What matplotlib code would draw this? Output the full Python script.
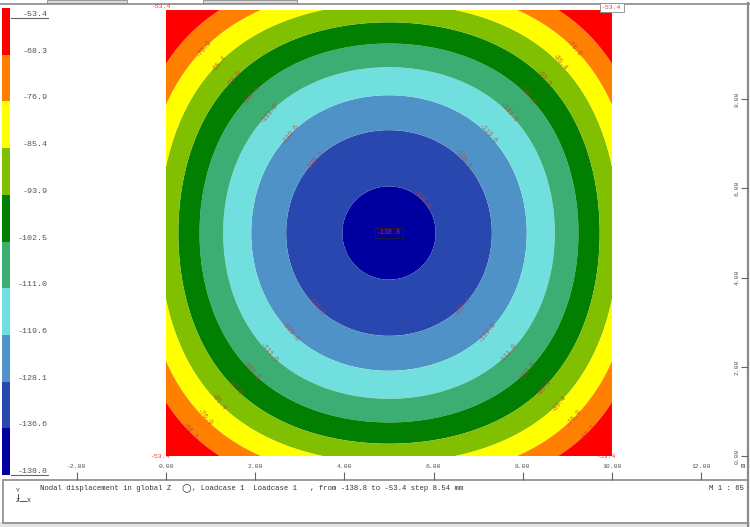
import numpy as np
import matplotlib
matplotlib.use("Agg")
import matplotlib.pyplot as plt
from matplotlib.patches import Rectangle
from matplotlib.lines import Line2D

# ---------------- data ----------------
levels = [-138.8, -136.6, -128.1, -119.6, -111.0, -102.5, -93.9, -85.4, -76.9, -68.3, -53.4]
band_colors = ["#0000a0", "#2848b0", "#4e92c8", "#72dfdf", "#3cae74",
               "#007f00", "#80c000", "#ffff00", "#ff8000", "#ff0000"]
w_center = -138.8      # value at plate centre
w_edge_mid = -88.5     # value at middle of each edge
w_corner = -53.4       # value at the corners
plate_x = [0.0, 10.0]
plate_y = [0.0, 10.0]
ruler_x_ticks = [-2, 0, 2, 4, 6, 8, 10, 12]
ruler_y_ticks = [0, 2, 4, 6, 8]
label_levels_tl = [-76.9, -85.4, -93.9, -102.5, -111.0, -119.6, -128.1]
label_levels_tr = [-76.9, -85.4, -93.9, -102.5, -111.0, -119.6, -128.1, -136.6]
label_levels_bl = [-68.3, -76.9, -85.4, -93.9, -102.5, -111.0, -119.6, -128.1]
label_levels_br = [-68.3, -76.9, -85.4, -93.9, -102.5, -111.0, -119.6, -128.1]
caption_a = "Nodal displacement in global Z"
caption_b = ", Loadcase 1  Loadcase 1   , from -138.8 to -53.4 step 8.54 mm"
scale_text = "M 1 : 65"

MONO = ["Liberation Mono", "DejaVu Sans Mono"]
W, H = 750, 527
fig = plt.figure(figsize=(W / 100, H / 100), dpi=100)
fig.patch.set_facecolor("white")


def fa(x0, y0, x1, y1):
    """figure-fraction rect from pixel box (top-left origin)"""
    return [x0 / W, 1 - y1 / H, (x1 - x0) / W, (y1 - y0) / H]


# ---------------- frame (pixel coordinates) ----------------
frame = fig.add_axes([0, 0, 1, 1], zorder=0)
frame.set_xlim(0, W)
frame.set_ylim(H, 0)
frame.axis("off")
grey = "#8a8a8a"
frame.add_patch(Rectangle((0, 522), W, 5, facecolor="#e4e4e4", edgecolor="none"))
frame.add_line(Line2D([0, W], [3.5, 3.5], color=grey, lw=1.2))
frame.add_patch(Rectangle((47, 0), 80, 3, facecolor="#d8d8d8", edgecolor=grey, lw=0.6))
frame.add_patch(Rectangle((203, 0), 94, 3, facecolor="#d8d8d8", edgecolor=grey, lw=0.6))
frame.add_line(Line2D([747.5, 747.5], [3, 527], color=grey, lw=1.6))
frame.add_patch(Rectangle((3, 479.5), 744.5, 43, facecolor="none", edgecolor=grey, lw=1.2))

# hidden parts of corner labels (covered by plate)
frame.text(151, 456, "-53.4", color="#ff3030", fontsize=4.6, family=MONO, va="center", ha="left")
frame.text(597, 456, "-53.4", color="#ff3030", fontsize=4.6, family=MONO, va="center", ha="left")

# caption
frame.text(40, 488, caption_a, fontsize=5.2, family=MONO, color="#333333", va="center", ha="left")
frame.text(186, 487.5, "\u25cb", fontsize=8, family=["DejaVu Sans"], color="#333333", va="center", ha="center")
frame.text(192, 488, caption_b, fontsize=5.2, family=MONO, color="#333333", va="center", ha="left")
frame.text(744, 488, scale_text, fontsize=5.2, family=MONO, color="#333333", va="center", ha="right")
# coordinate icon
frame.text(18, 491, "Y", fontsize=4.6, family=MONO, color="#333333", va="center", ha="center")
frame.add_line(Line2D([18, 18], [494, 500], color="#333333", lw=0.6))
frame.text(18, 501, "Z", fontsize=4.6, family=MONO, color="#333333", va="center", ha="center")
frame.add_line(Line2D([20, 26], [501, 501], color="#333333", lw=0.6))
frame.text(29, 501, "X", fontsize=4.6, family=MONO, color="#333333", va="center", ha="center")
frame.text(743, 466, "m", fontsize=5, family=MONO, color="#444444", va="center", ha="center")

# ---------------- colour legend ----------------
nb = len(band_colors)
cb_top, cb_bot = 8, 475
cax = fig.add_axes(fa(2, cb_top, 10, cb_bot), zorder=1)
cax.bar([0] * nb, [1] * nb, bottom=np.arange(nb), width=1, color=band_colors, edgecolor="none", align="edge")
cax.set_xlim(0, 1)
cax.set_ylim(0, nb)
cax.axis("off")
step = (cb_bot - cb_top) / nb
for k, lv in enumerate(levels[::-1]):
    yb = cb_top + k * step
    if k == 0:
        yt = yb + 6
    else:
        yt = yb - 3.5
    frame.text(47.5, yt, f"{lv:.1f}", fontsize=6, family=MONO, color="#555555",
               va="center", ha="right")
    if k == 0 or k == nb:
        frame.add_line(Line2D([11, 48], [yt + 3.5, yt + 3.5], color="#666666", lw=0.8))

# ---------------- plate contour ----------------
ax = fig.add_axes(fa(166, 10, 612, 456), zorder=1)
xs = np.linspace(plate_x[0], plate_x[1], 401)
ys = np.linspace(plate_y[0], plate_y[1], 401)
X, Y = np.meshgrid(xs, ys)
cx = 0.5 * (plate_x[0] + plate_x[1])
cy = 0.5 * (plate_y[0] + plate_y[1])
hx = 0.5 * (plate_x[1] - plate_x[0])
hy = 0.5 * (plate_y[1] - plate_y[0])


def field(x, y):
    u = (x - cx) / hx
    v = (y - cy) / hy
    a = w_edge_mid - w_center
    c = w_corner - w_center - 2 * a
    return w_center + a * (u ** 2 + v ** 2) + c * (u ** 2) * (v ** 2)


Z = field(X, Y)
lv_plot = list(levels)
lv_plot[0] -= 0.5
lv_plot[-1] += 0.5
ax.contourf(X, Y, Z, levels=lv_plot, colors=band_colors, antialiased=True)
ax.set_xlim(plate_x)
ax.set_ylim(plate_y)
ax.axis("off")
ax.plot([plate_x[1], plate_x[1]], plate_y, color="#e8e070", lw=0.6, ls=(0, (2, 2)))

lab_col = "#c03838"
tt = np.linspace(0, hx, 500)
for (sx, sy), lst in [((-1, 1), label_levels_tl), ((1, 1), label_levels_tr),
                      ((-1, -1), label_levels_bl), ((1, -1), label_levels_br)]:
    px = cx + sx * tt
    py = cy + sy * tt
    vals = field(px, py)
    for lv in lst:
        t = np.interp(lv, vals, tt)
        ax.text(cx + sx * t, cy + sy * t, f"{lv:.1f}", rotation=-50 * sx * sy,
                rotation_mode="anchor", ha="center", va="center",
                fontsize=4.8, family=MONO, color=lab_col, alpha=0.8)

ax.text(cx, cy, f"{w_center:.1f}", ha="center", va="center", fontsize=4.8, family=MONO,
        color="#d02040",
        bbox=dict(boxstyle="square,pad=0.25", facecolor="none", edgecolor="#202020", lw=0.6))

# top corner labels (drawn above everything)
fig.text(152 / W, 1 - 7 / H, f"{w_corner:.1f}", fontsize=4.6, family=MONO, color="#ff3030",
         va="center", ha="left")
fig.text(612 / W, 1 - 7.5 / H, f"{w_corner:.1f}", fontsize=4.6, family=MONO, color="#ff3030",
         va="center", ha="center",
         bbox=dict(boxstyle="square,pad=0.35", facecolor="white", edgecolor=grey, lw=0.6))

# ---------------- bottom ruler ----------------
ppu = 446 / (plate_x[1] - plate_x[0])
rax = fig.add_axes(fa(0, 472, W, 479.5), zorder=2)
rax.set_xlim(plate_x[0] - 166 / ppu, plate_x[0] + (W - 166) / ppu)
rax.set_ylim(0, 1)
rax.patch.set_alpha(0)
for s in rax.spines.values():
    s.set_visible(False)
rax.set_yticks([])
rax.set_xticks(ruler_x_ticks)
rax.set_xticklabels([f"{v:.2f}" for v in ruler_x_ticks], family=MONO, fontsize=4.6, color="#555555")
rax.tick_params(axis="x", direction="in", length=5.5, width=0.8, color="#666666",
                bottom=True, top=False, labelbottom=False, labeltop=True, pad=2)

# ---------------- right ruler ----------------
vax = fig.add_axes(fa(741, 10, 747.5, 456), zorder=2)
vax.set_ylim(plate_y)
vax.set_xlim(0, 1)
vax.patch.set_alpha(0)
for s in vax.spines.values():
    s.set_visible(False)
vax.set_xticks([])
vax.set_yticks(ruler_y_ticks)
vax.set_yticklabels([f"{v:.2f}" for v in ruler_y_ticks], family=MONO, fontsize=4.6,
                    color="#555555", rotation=90, va="center")
vax.tick_params(axis="y", direction="in", length=5, width=0.8, color="#666666",
                left=False, right=True, labelleft=True, labelright=False, pad=1)

fig.savefig("out.png", dpi=100)
